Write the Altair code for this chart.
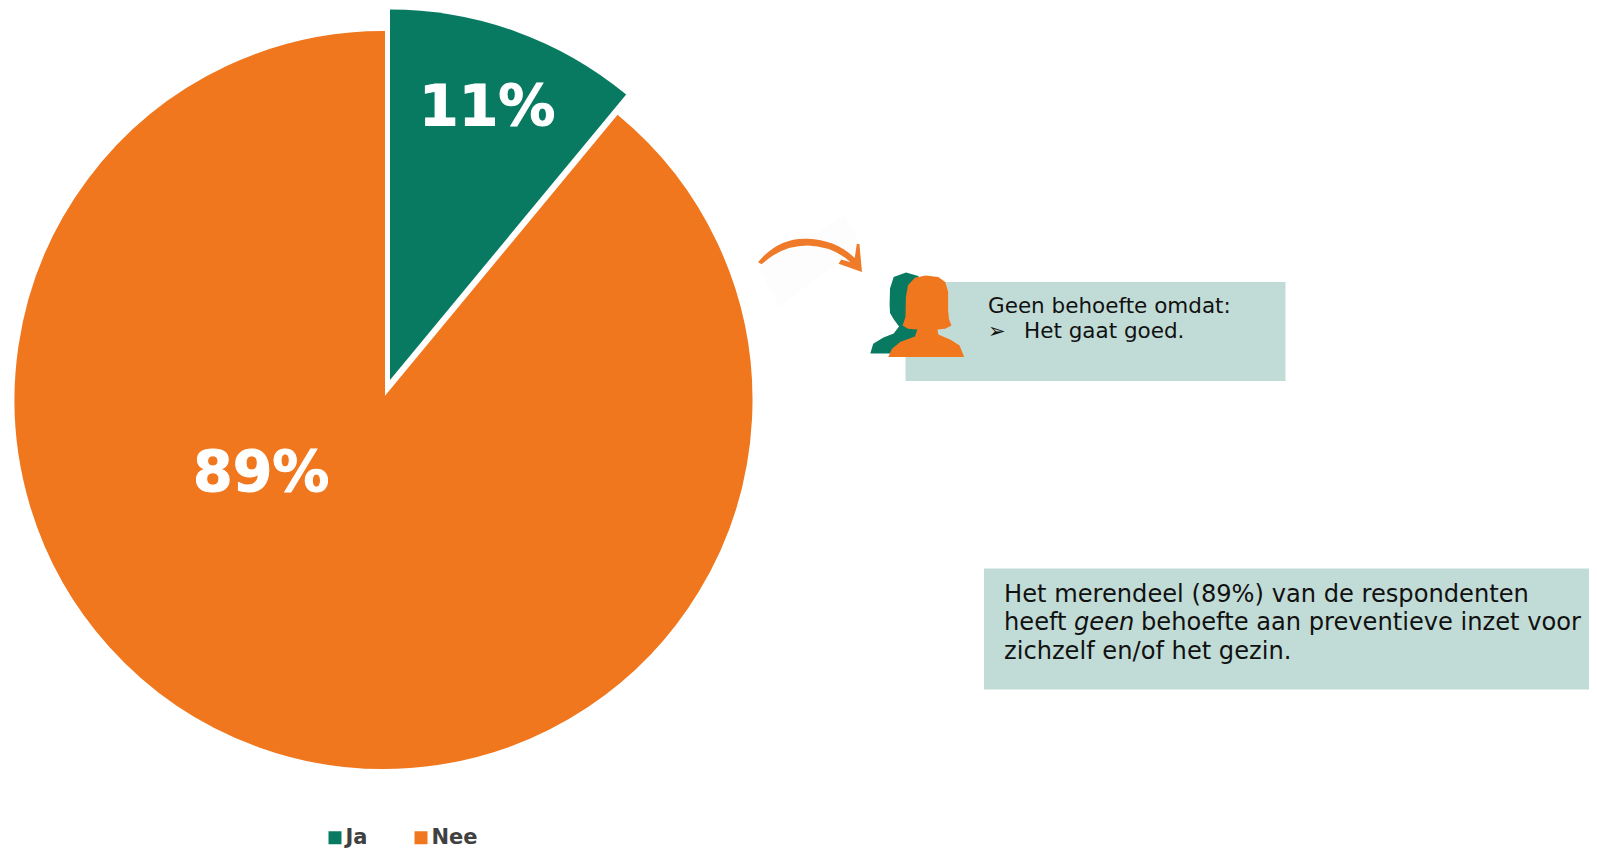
import altair as alt
import pandas as pd

categories = ["Ja", "Nee"]
values = [11, 89]
colors = ["#087A62", "#F0771D"]
pct_labels = ["11%", "89%"]

box_color = "#C1DCD6"
font = "DejaVu Sans"

WOMAN = ("M-.93 1 L-.84 .8 L-.63 .63 L-.28 .5 L-.22 .33 L-.45 .31 L-.58 .23 L-.51 .02 L-.5 -.46 L-.45 -.75 "
         "L-.28 -.93 L-.02 -.99 L.29 -.95 L.46 -.83 L.53 -.59 L.53 -.14 L.55 .07 L.61 .23 L.46 .31 L.27 .33 "
         "L.29 .45 L.59 .58 L.81 .72 L.92 1 Z")
MAN = ("M-.87 .99 L-.8 .75 L-.55 .6 L-.3 .5 L-.17 .33 L-.3 .15 L-.39 0 L-.4 -.2 L-.39 -.6 L-.3 -.88 L0 -.99 "
       "L.3 -.9 L.4 -.6 L.4 0 L.3 .3 L.5 .6 L.87 .99 Z")
ARROW = ("M-1 .1 Q-.6 -.38 -.04 -.35 Q.5 -.33 .86 .02 L.9 -.25 L.95 -.25 L1 .29 L.55 .13 L.6 .05 L.78 .1 "
         "Q.45 -.2 -.04 -.22 Q-.55 -.22 -.93 .14 Z")
PATCH = "M.65 -.85 L.94 -.3 L-.57 .85 L-.96 .13 Z"

W, H = 1581, 840


def fx(v):
    return v - 8


def fy(v):
    return v - 8


df = pd.DataFrame({"cat": categories, "value": values, "label": pct_labels})
base = alt.Chart(df).transform_stack(stack="value", as_=["start", "end"], groupby=[], sort=[alt.SortField("cat")])


def slice_layer(cat, cx, cy, r, stroke_width):
    kw = {"stroke": colors[categories.index(cat)], "strokeWidth": stroke_width} if stroke_width else {}
    return base.transform_filter(alt.datum.cat == cat).mark_arc(outerRadius=r, **kw).encode(
        theta=alt.Theta("start:Q", scale=alt.Scale(domain=[0, 100], range=[0, 6.283185307]), title=None),
        theta2="end:Q",
        color=alt.Color(
            "cat:N",
            scale=alt.Scale(domain=categories, range=colors),
            legend=alt.Legend(
                title=None, orient="none", legendX=fx(324.5), legendY=fy(827), direction="horizontal",
                symbolType="square", symbolSize=169, symbolStrokeWidth=0, symbolOpacity=1,
                labelFont=font, labelFontWeight="bold", labelFontSize=21, labelColor="#404040",
                columnPadding=43, labelOffset=0,
            ),
        ),
        x=alt.value(fx(cx)),
        y=alt.value(fy(cy)),
    )


def label_layer(cat, px, py):
    return alt.Chart(df).transform_filter(alt.datum.cat == cat).mark_text(
        font=font, fontWeight="bold", fontSize=57, color="white", stroke="white", strokeWidth=1,
        align="left", baseline="alphabetic"
    ).encode(text="label:N", x=alt.value(fx(px)), y=alt.value(fy(py)))


def rect_layer(x0, x1, y0, y1):
    return alt.Chart(pd.DataFrame({"a": [0]})).mark_rect(color=box_color).encode(
        x=alt.value(fx(x0)), x2=alt.value(fx(x1)), y=alt.value(fy(y0)), y2=alt.value(fy(y1))
    )


def symbol_layer(path, col, cx, cy, extent):
    return alt.Chart(pd.DataFrame({"a": [0]})).mark_point(
        shape=path, filled=True, fill=col, opacity=1, strokeWidth=0, size=extent * extent
    ).encode(x=alt.value(fx(cx)), y=alt.value(fy(cy)))


def text_layer(txt, px, py, size, style="normal"):
    return alt.Chart(pd.DataFrame({"t": [txt]})).mark_text(
        font=font, fontSize=size, fontStyle=style, color="#111111", align="left", baseline="alphabetic"
    ).encode(text="t:N", x=alt.value(fx(px)), y=alt.value(fy(py)))


S1, S2 = 21.5, 24.15
layers = [
    slice_layer("Nee", 383.5, 400, 367.5, 3),
    slice_layer("Ja", 390, 380, 370.5, 0),
    label_layer("Ja", 419, 126),
    label_layer("Nee", 193, 491.5),
    rect_layer(905.5, 1285.5, 282, 381),
    symbol_layer(PATCH, "#FDFDFD", 810, 261, 108),
    symbol_layer(ARROW, "#EE7A2A", 810, 257, 104),
    symbol_layer(MAN, "#087A62", 906, 313, 82),
    symbol_layer(WOMAN, "#F0771D", 926.4, 316, 82),
    text_layer("Geen behoefte omdat:", 988, 313, S1),
    text_layer("\u27a2", 988, 338, 21),
    text_layer("Het gaat goed.", 1024, 338, S1),
    rect_layer(984, 1597, 568.5, 689.5),
    text_layer("Het merendeel (89%) van de respondenten", 1004, 602, S2),
    text_layer("heeft ", 1004, 630, S2),
    text_layer("geen", 1074, 630, S2, "italic"),
    text_layer("behoefte aan preventieve inzet voor", 1141, 630, S2),
    text_layer("zichzelf en/of het gezin.", 1004, 659, S2),
]

chart = alt.layer(*layers).properties(
    width=W, height=H, padding=0, autosize=alt.AutoSizeParams(type="none")
).configure_view(stroke=None)

chart.save("out.html", embed_options={"renderer": "svg", "actions": False})
